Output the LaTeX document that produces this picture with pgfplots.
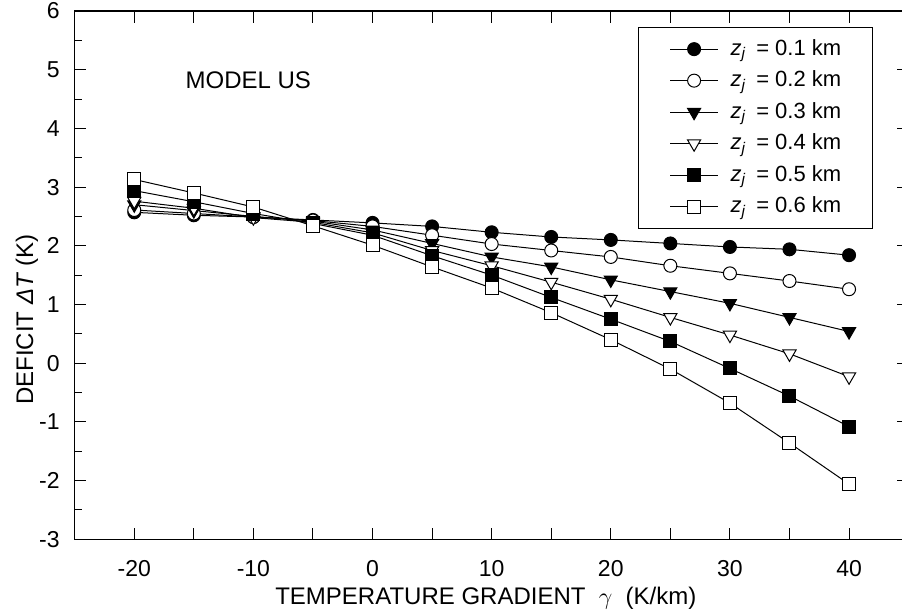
\documentclass[border=0pt]{standalone}
\usepackage{fontspec}
\setmainfont{Liberation Sans}
\usepackage{pgfplots}
\pgfplotsset{compat=1.18}

\begin{document}
\begin{tikzpicture}
\begin{axis}[
  name=ax,
  scale only axis,
  width=416.95pt, height=264.15pt,
  xmin=-25, xmax=45, ymin=-3, ymax=6,
  xtick={-20,-15,...,40},
  xticklabels={-20,,-10,,0,,10,,20,,30,,40},
  ytick={-3,-2,...,6},
  yticklabels={-3,-2,-1,0,1,2,3,4,5,6},
  minor ytick={-2.5,-1.5,...,5.5},
  tick align=inside,
  major tick length=5.8pt,
  minor tick length=3.5pt,
  tick style={black, line width=0.5pt},
  axis line style={line width=0.6pt},
  xticklabel style={font=\fontsize{11.5}{13}\selectfont, anchor=base, yshift=-18.4pt, inner sep=0pt},
  yticklabel style={font=\fontsize{11.5}{13}\selectfont, anchor=east, xshift=-7.35pt, inner sep=0pt},
  xlabel={TEMPERATURE GRADIENT \ $\gamma$ \ (K/km)},
  xlabel style={at={(axis description cs:0.493,-0.111)}, anchor=center, font=\fontsize{12}{14}\selectfont},
  ylabel={DEFICIT \textit{ΔT} (K)},
  ylabel style={at={(axis description cs:-0.0572,0.416)}, anchor=center, font=\fontsize{12}{14}\selectfont},
  legend style={at={(axis description cs:0.957,0.970)}, anchor=north east, draw=black, line width=0.5pt,
    font=\fontsize{11}{13}\selectfont, inner xsep=15.5pt, inner ysep=5.4pt, row sep=4.75pt,
    nodes={inner sep=0pt, text height=8.5pt, text depth=2.5pt},
    /tikz/every odd column/.append style={column sep=6pt}},
  legend cell align=left,
  legend image code/.code={\draw[mark repeat=2, mark phase=2] plot coordinates {(0pt,0pt) (12pt,0pt) (24pt,0pt)};},
  every axis plot/.append style={black, line width=0.5pt},
]
\addplot[mark=*, mark size=3.25pt, mark options={fill=black, solid}] coordinates {
(-20,2.57)(-15,2.52)(-10,2.49)(-5,2.44)(0,2.39)(5,2.33)(10,2.23)(15,2.15)(20,2.10)(25,2.04)(30,1.98)(35,1.94)(40,1.84)};
\addlegendentry{\textit{z}\textsubscript{\textit{j}}\hspace{0.45em}= 0.1 km}
\addplot[mark=*, mark size=3.25pt, mark options={fill=white, solid}] coordinates {
(-20,2.61)(-15,2.55)(-10,2.49)(-5,2.43)(0,2.33)(5,2.18)(10,2.03)(15,1.92)(20,1.81)(25,1.66)(30,1.53)(35,1.40)(40,1.26)};
\addlegendentry{\textit{z}\textsubscript{\textit{j}}\hspace{0.45em}= 0.2 km}
\addplot[mark=triangle*, mark size=3.8pt, mark options={fill=black, solid, rotate=180}] coordinates {
(-20,2.70)(-15,2.60)(-10,2.50)(-5,2.42)(0,2.27)(5,2.04)(10,1.81)(15,1.64)(20,1.42)(25,1.22)(30,1.02)(35,0.78)(40,0.54)};
\addlegendentry{\textit{z}\textsubscript{\textit{j}}\hspace{0.45em}= 0.3 km}
\addplot[mark=triangle*, mark size=3.8pt, mark options={fill=white, solid, rotate=180}] coordinates {
(-20,2.76)(-15,2.64)(-10,2.48)(-5,2.40)(0,2.22)(5,1.92)(10,1.66)(15,1.38)(20,1.09)(25,0.78)(30,0.48)(35,0.16)(40,-0.23)};
\addlegendentry{\textit{z}\textsubscript{\textit{j}}\hspace{0.45em}= 0.4 km}
\addplot[mark=square*, mark size=3.25pt, mark options={fill=black, solid}] coordinates {
(-20,2.94)(-15,2.75)(-10,2.55)(-5,2.38)(0,2.18)(5,1.83)(10,1.50)(15,1.12)(20,0.75)(25,0.37)(30,-0.09)(35,-0.56)(40,-1.08)};
\addlegendentry{\textit{z}\textsubscript{\textit{j}}\hspace{0.45em}= 0.5 km}
\addplot[mark=square*, mark size=3.25pt, mark options={fill=white, solid}] coordinates {
(-20,3.13)(-15,2.90)(-10,2.66)(-5,2.34)(0,2.01)(5,1.64)(10,1.28)(15,0.86)(20,0.40)(25,-0.10)(30,-0.68)(35,-1.36)(40,-2.06)};
\addlegendentry{\textit{z}\textsubscript{\textit{j}}\hspace{0.45em}= 0.6 km}
\node[font=\fontsize{12}{14}\selectfont] at (axis cs:-10.43,4.82) {MODEL US};
\end{axis}
\pgfresetboundingbox
\path[use as bounding box] ([xshift=-37.35pt, yshift=-37.85pt]ax.south west) rectangle ([xshift=-3.3pt, yshift=5.5pt]ax.north east);
\end{tikzpicture}
\end{document}
